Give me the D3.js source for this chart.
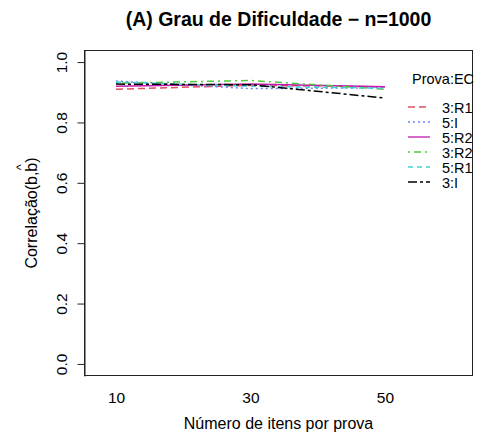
<!DOCTYPE html>
<html><head><meta charset="utf-8">
<script src="https://cdn.jsdelivr.net/npm/d3@7"></script>
<style>body{margin:0;background:#fff}svg{display:block;font-family:"Liberation Sans",Arial,sans-serif}</style>
</head><body>
<script>
const itens = [10, 30, 50];
const seriesNames = ["3:R1", "5:I", "5:R2", "3:R2", "5:R1", "3:I"];
const s3R1 = [0.910, 0.923, 0.918];
const s5I  = [0.937, 0.912, 0.915];
const s5R2 = [0.920, 0.927, 0.918];
const s3R2 = [0.930, 0.939, 0.910];
const s5R1 = [0.934, 0.920, 0.913];
const s3I  = [0.927, 0.925, 0.881];
const yTicks = [0, 0.2, 0.4, 0.6, 0.8, 1.0];
const xTicks = [10, 30, 50];
const titleText = "(A) Grau de Dificuldade \u2212 n=1000";
const xLabel = "Número de itens por prova";
const yLabel = "Correlação(b,b)";
const legendTitle = "Prova:EC";

const seriesValues = [s3R1, s5I, s5R2, s3R2, s5R1, s3I];
const colors = ["#E0505F", "#6f83ee", "#C21AAE", "#4fc93d", "#3fd3dc", "#000000"];
const dashes = ["7,4", "2,3", null, "2,4,7,4", "5,4", "9,3,3,3"];

const W = 481, H = 437;
const L = 84, R = 473, T = 50, B = 376;
const svg = d3.select("body").append("svg").attr("width", W).attr("height", H);
const x = d3.scaleLinear().domain([5.24, 63.1]).range([L, R]);
const y = d3.scaleLinear().domain([-0.04, 1.04]).range([B, T]);

// box
svg.append("rect").attr("x", L + 0.5).attr("y", T + 0.5).attr("width", R - L - 1).attr("height", B - T - 1)
  .attr("fill", "none").attr("stroke", "#222").attr("stroke-width", 1);

// y axis
const yAxis = svg.append("g").attr("transform", `translate(${L + 0.5},0)`)
  .call(d3.axisLeft(y).tickValues(yTicks).tickSize(7).tickSizeOuter(0).tickFormat(d3.format(".1f")));
yAxis.select(".domain").attr("stroke", "#222");
yAxis.selectAll(".tick line").attr("stroke", "#222");
yAxis.selectAll(".tick text").attr("font-size", 15.5).attr("fill", "#000")
  .attr("x", 0).attr("dy", 0).attr("text-anchor", "middle")
  .attr("transform", "translate(-18,0) rotate(-90)").attr("y", 0);

// x axis labels only
const xAxis = svg.append("g").attr("transform", `translate(0,${B})`)
  .call(d3.axisBottom(x).tickValues(xTicks).tickSize(0).tickPadding(16));
xAxis.select(".domain").remove();
xAxis.selectAll(".tick text").attr("font-size", 15.5).attr("fill", "#000");

// lines
const line = d3.line().x((d, i) => x(itens[i])).y(d => y(d));
seriesValues.forEach((vals, k) => {
  svg.append("path").datum(vals).attr("d", line).attr("fill", "none")
    .attr("stroke", colors[k]).attr("stroke-width", 1.5)
    .attr("stroke-dasharray", dashes[k]);
});

// title
svg.append("text").attr("x", (L + R) / 2).attr("y", 26).attr("text-anchor", "middle")
  .attr("font-size", 19.5).attr("font-weight", "bold").text(titleText);

// x label
svg.append("text").attr("x", (L + R) / 2).attr("y", 429).attr("text-anchor", "middle")
  .attr("font-size", 16).text(xLabel);

// y label with hat
const yl = svg.append("text").attr("transform", `translate(37,${(T + B) / 2}) rotate(-90)`)
  .attr("text-anchor", "middle").attr("font-size", 16).text(yLabel);
const node = yl.node();
const full = node.getComputedTextLength();
const pre = node.getSubStringLength(0, yLabel.length - 2);
const bw = node.getSubStringLength(yLabel.length - 2, 1);
svg.append("text").attr("transform", `translate(37,${(T + B) / 2}) rotate(-90)`)
  .attr("x", -full / 2 + pre + bw / 2).attr("y", -12).attr("text-anchor", "middle")
  .attr("font-size", 13).text("^");

// legend
svg.append("text").attr("x", 412).attr("y", 84).attr("font-size", 14.5).text(legendTitle);
seriesNames.forEach((nm, k) => {
  const yy = 107 + k * 15;
  svg.append("line").attr("x1", 408).attr("x2", 430).attr("y1", yy).attr("y2", yy)
    .attr("stroke", colors[k]).attr("stroke-width", 1.3).attr("stroke-dasharray", dashes[k]);
  svg.append("text").attr("x", 442).attr("y", yy + 5.5).attr("font-size", 14.5).text(nm);
});
</script>
</body></html>
